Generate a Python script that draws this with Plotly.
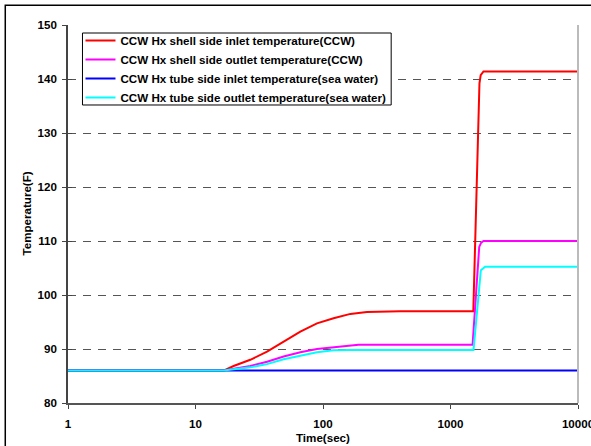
import plotly.graph_objects as go

# ---- data ----
series_names = [
    "CCW Hx shell side inlet temperature(CCW)",
    "CCW Hx shell side outlet temperature(CCW)",
    "CCW Hx tube side inlet temperature(sea water)",
    "CCW Hx tube side outlet temperature(sea water)",
]
series_colors = ["#FF0000", "#FF00FF", "#0000FF", "#00FFFF"]

shell_in_t = [1, 16.6, 19.9, 26.9, 36.4, 49.1, 66.4, 89.7, 121, 164, 221, 403, 1510, 1687, 1725, 1815, 10000]
shell_in_v = [86, 86, 86.85, 88.0, 89.5, 91.35, 93.2, 94.75, 95.7, 96.5, 96.85, 97.0, 97.0, 139.2, 140.7, 141.4, 141.4]

shell_out_t = [1, 16.6, 26.9, 36.4, 49.1, 66.4, 89.7, 121, 164, 190, 1490, 1680, 1740, 1815, 10000]
shell_out_v = [86, 86, 86.85, 87.65, 88.6, 89.4, 90.0, 90.3, 90.6, 90.8, 90.8, 108.9, 109.7, 110.0, 110.0]

tube_in_t = [1, 10000]
tube_in_v = [86, 86]

tube_out_t = [1, 16.6, 26.9, 36.4, 49.1, 66.4, 89.7, 121, 164, 1515, 1730, 1870, 10000]
tube_out_v = [86, 86, 86.6, 87.2, 88.1, 88.8, 89.4, 89.76, 89.8, 89.8, 104.6, 105.25, 105.25]

x_tickvals = [1, 10, 100, 1000, 10000]
x_ticktext = ["1", "10", "100", "1000", "10000"]
y_tickvals = [80, 90, 100, 110, 120, 130, 140, 150]
x_title = "Time(sec)"
y_title = "Temperature(F)"

FONT = "Arial, Liberation Sans, sans-serif"
FS = 11.6

fig = go.Figure()
for name, color, t, v in zip(
    series_names,
    series_colors,
    [shell_in_t, shell_out_t, tube_in_t, tube_out_t],
    [shell_in_v, shell_out_v, tube_in_v, tube_out_v],
):
    fig.add_trace(go.Scatter(x=t, y=v, mode="lines", name=name,
                             line=dict(color=color, width=2)))

# invisible trace on overlay axis (inner half of the crossing y ticks)
fig.add_trace(go.Scatter(x=[1], y=[80], yaxis="y2", mode="markers",
                         marker=dict(opacity=0), showlegend=False, hoverinfo="skip"))

fig.update_layout(
    width=591, height=446,
    margin=dict(l=67.5, r=13, t=25, b=43),
    paper_bgcolor="white", plot_bgcolor="white",
    font=dict(family=FONT, size=FS, color="black", weight="bold"),
    showlegend=True,
    legend=dict(x=0.0245, y=0.9974, xanchor="left", yanchor="top",
                borderwidth=0, bgcolor="rgba(0,0,0,0)",
                font=dict(family=FONT, size=FS, color="black", weight="bold"),
                tracegroupgap=0),
    xaxis=dict(type="log", range=[0, 4], tickvals=x_tickvals, ticktext=x_ticktext,
               ticks="outside", ticklen=4, tickcolor="#444", tickwidth=1,
               showline=True, linecolor="#555", linewidth=2,
               showgrid=False, zeroline=False, automargin=False,
               ticklabelstandoff=5, ticklabeloverflow="allow"),
    yaxis=dict(range=[80, 150], tickvals=y_tickvals,
               ticks="outside", ticklen=4, tickcolor="#444", tickwidth=1,
               showline=True, linecolor="#444", linewidth=1.5,
               showgrid=True, gridcolor="#555", gridwidth=1, griddash="8px,7px",
               zeroline=False, automargin=False, ticklabelstandoff=3),
    yaxis2=dict(range=[80, 150], tickvals=y_tickvals, overlaying="y", side="left",
                ticks="inside", ticklen=4, tickcolor="#444", tickwidth=1,
                showticklabels=False, showgrid=False, showline=False, zeroline=False),
    annotations=[
        dict(text=x_title, xref="paper", yref="paper", x=0.5, y=-0.09,
             xanchor="center", yanchor="middle", showarrow=False,
             font=dict(family=FONT, size=FS, weight="bold")),
        dict(text=y_title, xref="paper", yref="paper", x=-0.0833, y=0.5,
             xanchor="center", yanchor="middle", showarrow=False, textangle=-90,
             font=dict(family=FONT, size=FS, weight="bold")),
    ],
    shapes=[
        # right plot edge
        dict(type="line", xref="paper", yref="paper", x0=1, x1=1, y0=0, y1=1,
             line=dict(color="#BBBBBB", width=2)),
        # legend box
        dict(type="rect", xref="paper", yref="paper", x0=0.0284, x1=0.6337, y0=0.7884, y1=0.9788,
             line=dict(color="black", width=1), fillcolor="white", layer="above"),
        # outer frame
        dict(type="rect", xref="paper", yref="paper", x0=-0.123, x1=1.2, y0=-0.3, y1=1.052,
             line=dict(color="black", width=1.5), layer="above"),
    ],
)

fig.write_html("out.html", config={"displayModeBar": False},
               post_script="document.body.style.margin='0px';")
